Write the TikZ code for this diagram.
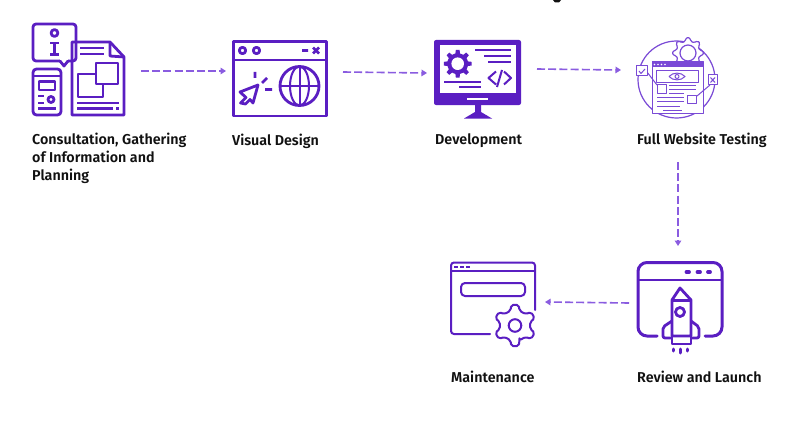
\documentclass[tikz,border=0pt]{standalone}
\usepackage{fontspec}
\setmainfont{Fira Sans}[BoldFont={Fira Sans SemiBold}]
\usetikzlibrary{arrows.meta,calc}
\definecolor{iconpurple}{HTML}{5A1EC2}
\definecolor{flowpurple}{HTML}{8A5CE0}
\definecolor{testpurple}{HTML}{7A4AD6}
\definecolor{inkblack}{HTML}{111111}
\newcommand{\gearoutline}[5]{% cx, cy, outer, base, step angle
  ([shift={(#1,#2)}]90-#5*0.28:#4)
  \foreach \ga in {0,#5,...,359} {
    -- ([shift={(#1,#2)}]90+\ga-#5*0.17:#3)
    -- ([shift={(#1,#2)}]90+\ga+#5*0.17:#3)
    -- ([shift={(#1,#2)}]90+\ga+#5*0.28:#4)
    -- ([shift={(#1,#2)}]90+\ga+#5*0.72:#4)
  } -- cycle}
\tikzset{
  iconbox/.style={inner sep=0pt,outer sep=0pt,draw=none},
  lab/.style={anchor=west,align=left,inner sep=0pt,text=inkblack,font=\fontsize{14.3}{18}\selectfont\bfseries},
  flow/.style={draw=flowpurple,line width=1.6pt,dash pattern=on 8pt off 3.2pt,-{Triangle[length=5.5pt,width=6.5pt]}},
  ic/.style={draw=iconpurple,line width=2.8pt,line join=round},
  icm/.style={draw=iconpurple,line width=2pt,line join=round},
  ict/.style={draw=testpurple,line width=1pt,line join=round},
}
\begin{document}
\begin{tikzpicture}[x=1pt,y=-1pt]
\useasboundingbox (0,0) rectangle (801,428);
\fill[white] (0,0) rectangle (801,428);
\fill[inkblack] (553,0) -- (561,0) -- (559,2.5) -- (555,2.5) -- cycle;

% anchors of the icons
\node[iconbox,minimum width=92pt,minimum height=92pt] (consult) at (79,71) {};
\node[iconbox,minimum width=94pt,minimum height=76pt] (design) at (280,78) {};
\node[iconbox,minimum width=87pt,minimum height=78pt] (develop) at (477.5,79) {};
\node[iconbox,minimum width=78pt,minimum height=78pt] (testing) at (677,79) {};
\node[iconbox,minimum width=86pt,minimum height=86pt] (launch) at (680,305) {};
\node[iconbox,minimum width=84pt,minimum height=86pt] (maint) at (493,305) {};

% --- consultation icon
\draw[ic,rounded corners=3pt] (33,24) rectangle (76,61);
\fill[white] (60,58) rectangle (68,63);
\draw[ic,line cap=round] (60,61) -- (64,66) -- (68,61);
\draw[ic] (54.5,33) circle (3.4);
\draw[ic] (50,43) -- (59,43) (54.5,43) -- (54.5,54) (50,54.5) -- (59,54.5);
\draw[ic,rounded corners=3.5pt] (33,69) rectangle (61,115);
\draw[ic] (33,76) -- (61,76);
\draw[ic] (39,81.5) rectangle (55,90);
\draw[ic] (38,96) -- (44,96) (38,103) -- (44,103) (38,108.5) -- (56,108.5);
\draw[ic] (51,99.5) circle (3);
\draw[ic] (72,115) -- (72,42) -- (110,42) -- (124,57) -- (124,115) -- cycle;
\draw[ic] (110,42) -- (110,56) -- (124,57);
\draw[ic] (80,48) -- (104,48) (80,54) -- (104,54);
\draw[ic] (78,74) rectangle (103,97);
\draw[ic,fill=white] (96,63) rectangle (118,84);
\draw[ic] (77,103) -- (119,103) (77,108.5) -- (113,108.5);
\fill[iconpurple] (116,107) rectangle (119,110);

% --- visual design icon
\draw[ic] (233.5,41.5) rectangle (326.5,116);
\draw[ic] (233.5,60) -- (326.5,60);
\draw[ic] (242.5,50.5) circle (3.2) (256.5,50.5) circle (3.2);
\draw[ic] (302,50.5) -- (308,50.5) (313,47.5) -- (319,53.5) (319,47.5) -- (313,53.5);
\draw[ic] (299.5,86) circle (19.5);
\draw[icm] (299.5,86) ellipse (9.5 and 19.5);
\draw[icm] (299.5,66.5) -- (299.5,105.5) (280,86) -- (319,86);
\draw[ic] (258,85) -- (240,92) -- (246,97.5) -- (240.5,103) -- (245.5,104) -- (250,99.5) -- (253,103) -- cycle;
\draw[ic] (255,72) -- (255,78) (267,78) -- (262,83) (265,89.5) -- (272,89.5);

% --- development icon
\fill[iconpurple,rounded corners=2pt] (434,40) rectangle (521,105);
\fill[white] (440,45) rectangle (515.5,93);
\fill[white] (467,98) rectangle (488,100.5);
\fill[iconpurple] (475,104) -- (481,104) -- (481,112) -- (492,118.5) -- (464,118.5) -- (475,112) -- cycle;
\fill[iconpurple] \gearoutline{457.7}{63.7}{14}{10.5}{45};
\fill[white] (457.7,63.7) circle (6.3);
\draw[icm] (475,50.5) -- (511,50.5) (484,56) -- (511,56) (488,61.7) -- (511,61.7);
\draw[icm] (496,71.5) -- (488.5,78) -- (496,84.5) (504,71.5) -- (511,78) -- (504,84.5) (502,70) -- (497,87);
\draw[icm] (444,81.7) -- (481,81.7) (459,86.7) -- (481,86.7);

% --- testing icon
\draw[ict,line width=1.2pt] (676.5,79.5) circle (38.5);
\draw[ict,line width=1.2pt,fill=white,rounded corners=1.5pt] \gearoutline{688}{53}{15.5}{12}{45};
\draw[ict,line width=1.2pt] (688,53) circle (8);
\draw[ict,fill=white] (652,62) rectangle (703,113);
\fill[testpurple] (652,62) rectangle (703,67);
\fill[white] (654.5,64.5) circle (.8) (658,64.5) circle (.8) (661.5,64.5) circle (.8) (665,64.5) circle (.8);
\draw[ict] (656,71) rectangle (698,83);
\draw[ict] (669,76.5) .. controls (673,72) and (681,72) .. (685,76.5) .. controls (681,81) and (673,81) .. (669,76.5);
\draw[ict] (677,76.5) circle (2);
\draw[ict] (647,72) -- (657,85) (697,96) -- (710,85);
\draw[ict,fill=white] (636.5,66) rectangle (647,76);
\draw[ict] (639,71) -- (641,73.5) -- (645,69);
\draw[ict,fill=white] (708,75) rectangle (717.5,85);
\draw[ict] (710.5,77.5) -- (715,82.5) (715,77.5) -- (710.5,82.5);
\draw[ict,fill=white] (657,85) rectangle (666,94);
\draw[ict,fill=white] (687,96) rectangle (696.5,103.5);
\draw[ict] (669,86) -- (696,86) (669,90) -- (696,90) (669,94) -- (684,94);
\draw[ict] (657,98) -- (684,98) (657,102) -- (684,102) (657,106) -- (680,106);
\draw[draw=testpurple,line width=.7pt] (663,110) -- (682,110) (672,113) -- (690,113);

% --- launch icon
\draw[ic,line width=3pt,line cap=round,rounded corners=9pt] (657,336) -- (638,336) -- (638,262.5) -- (722,262.5) -- (722,336) -- (705,336);
\draw[ic,line width=2.8pt] (638,280) -- (722,280);
\draw[ic,line width=3.8pt,line cap=round] (686.5,272) -- (689,272) (697.5,272) -- (700,272) (708,272) -- (710,272);
\draw[ic] (680,288) -- (672,300) -- (672,336) -- (691,336) -- (691,300) -- cycle;
\draw[ic] (672,300.5) -- (691,300.5);
\draw[ic] (680,312) circle (4.5);
\draw[ic,rounded corners=2pt] (672,321) -- (663,327) -- (663,338) -- (672,338);
\draw[ic,rounded corners=2pt] (691,321) -- (699,327) -- (699,338) -- (691,338);
\draw[ic] (672,336) rectangle (691,344);
\draw[ic,line width=3pt,line cap=round] (673,349) -- (673,351) (680,349) -- (680,353) (687,349) -- (687,351);

% --- maintenance icon
\draw[icm,rounded corners=3pt,line cap=round] (490,334) -- (451,334) -- (451,262.5) -- (535,262.5) -- (535,310);
\draw[icm] (451,270.5) -- (535,270.5);
\draw[draw=iconpurple,line width=2pt] (454,266.5) -- (458,266.5) (460,266.5) -- (464,266.5) (466,266.5) -- (470,266.5);
\draw[icm,rounded corners=4pt] (461,283) rectangle (525,296);
\draw[icm,fill=white,rounded corners=2pt] \gearoutline{515}{325.5}{21}{15.5}{60};
\draw[icm] (515,325.5) circle (6.3);

% --- connectors
\draw[flow] ([xshift=16pt]consult.east) -- ([xshift=-7pt]design.west |- consult.east);
\draw[flow] ([xshift=16pt,yshift=6pt]design.east) -- ([xshift=-7pt,yshift=6pt]develop.west);
\draw[flow] ([xshift=-101pt,yshift=10pt]testing.west) -- ([xshift=-17pt,yshift=9pt]testing.west);
\draw[flow] ([xshift=1pt,yshift=-44pt]testing.south) -- ([xshift=-2pt,yshift=16pt]launch.north);
\draw[flow] ([xshift=-8pt,yshift=2pt]launch.west) -- ([xshift=10pt,yshift=3pt]maint.east);

% --- labels
\node[lab] (lconsult) at (32,158.5) {Consultation, Gathering\\of Information and\\Planning};
\node[lab] (ldesign) at (232,141.5) {Visual Design};
\node[lab] (ldevelop) at (435,140.5) {Development};
\node[lab] (ltesting) at (637,140.5) {Full Website Testing};
\node[lab] (lmaint) at (451,376.5) {Maintenance};
\node[lab] (llaunch) at (637,376.5) {Review and Launch};
\end{tikzpicture}
\end{document}
